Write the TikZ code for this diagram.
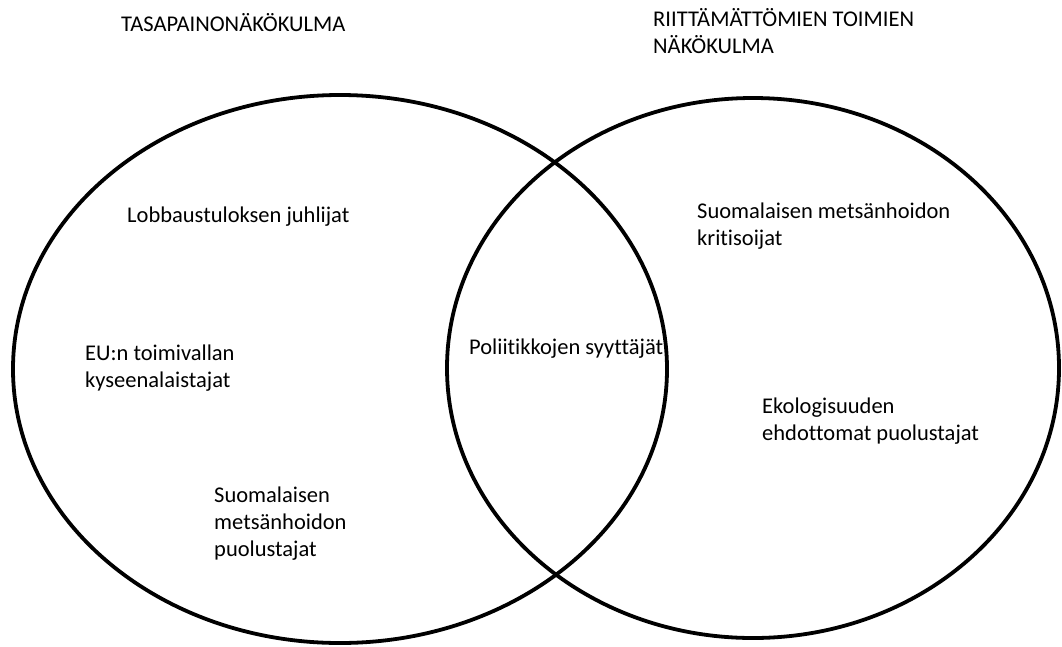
\documentclass[tikz,border=0pt]{standalone}
\usepackage{fontspec}
\setmainfont{Carlito}[Ligatures=CommonOff]
\begin{document}
\begin{tikzpicture}[x=1pt,y=-1pt,
  lbl/.style={anchor=west,inner sep=0pt,align=left,font=\fontsize{22.5}{27}\selectfont,text=black},
  ring/.style={draw=black,line width=3.8pt}]
\useasboundingbox (0,0) rectangle (1062,646);
\fill[white] (0,0) rectangle (1062,646);
\draw[ring] (340,369) ellipse [x radius=327, y radius=274];
\draw[ring] (753,368) ellipse [x radius=306, y radius=270];
\node[lbl] (t1) at (121,23) {TASAPAINONÄKÖKULMA};
\node[lbl] (t2) at (653,31) {RIITTÄMÄTTÖMIEN TOIMIEN\\NÄKÖKULMA};
\node[lbl] (a) at (127,217) {Lobbaustuloksen juhlijat};
\node[lbl] (b) at (85,368) {EU:n toimivallan\\kyseenalaistajat};
\node[lbl] (c) at (214,524) {Suomalaisen\\metsänhoidon\\puolustajat};
\node[lbl] (d) at (469,349) {Poliitikkojen syyttäjät};
\node[lbl] (e) at (697,226) {Suomalaisen metsänhoidon\\kritisoijat};
\node[lbl] (f) at (762,421) {Ekologisuuden\\ehdottomat puolustajat};
\end{tikzpicture}
\end{document}
